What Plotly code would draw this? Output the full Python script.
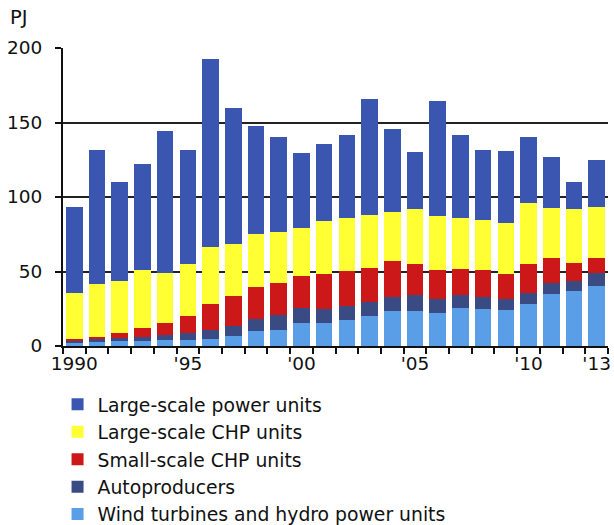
import plotly.graph_objects as go

years = [str(y) for y in range(1990, 2014)]
tick_labels = ["1990", "", "", "", "", "'95", "", "", "", "", "'00", "", "", "", "", "'05",
               "", "", "", "", "'10", "", "", "'13"]

wind_hydro = [2.4, 2.8, 3.3, 3.5, 4.0, 4.2, 4.6, 6.9, 9.8, 10.7, 15.2, 15.4, 17.4, 20.1,
              23.5, 23.7, 21.9, 25.7, 24.8, 24.1, 28.2, 34.9, 36.7, 40.0]
autoproducers = [1.1, 1.6, 2.2, 2.7, 3.1, 4.3, 5.9, 6.7, 8.1, 9.9, 10.1, 9.4, 9.6, 9.6,
                 9.6, 10.3, 9.4, 8.3, 8.1, 7.2, 7.6, 7.6, 7.1, 8.8]
small_chp = [1.1, 1.8, 3.4, 5.8, 8.5, 11.6, 17.5, 20.1, 21.7, 21.7, 21.5, 23.3, 23.3, 22.9,
             23.8, 21.0, 19.7, 17.7, 18.1, 16.8, 19.4, 16.4, 12.1, 10.1]
large_chp = [30.7, 35.4, 34.9, 39.0, 33.2, 34.9, 38.3, 35.0, 35.6, 34.4, 32.2, 35.8, 35.4,
             35.6, 33.3, 36.8, 36.5, 34.0, 33.4, 34.3, 40.8, 34.0, 35.9, 34.6]
large_power = [57.8, 89.8, 66.6, 71.2, 95.6, 76.7, 126.3, 90.7, 72.6, 63.5, 50.4, 51.8,
               55.6, 77.9, 55.4, 38.5, 76.6, 55.8, 47.3, 48.6, 44.2, 33.8, 18.6, 31.4]

series = [
    ("Wind turbines and hydro power units", wind_hydro, "#5b9ee8"),
    ("Autoproducers", autoproducers, "#3a4a82"),
    ("Small-scale CHP units", small_chp, "#cc1818"),
    ("Large-scale CHP units", large_chp, "#ffff33"),
    ("Large-scale power units", large_power, "#3a56b0"),
]

font = "DejaVu Sans, Verdana, sans-serif"

fig = go.Figure()
n = len(series)
for i, (name, vals, col) in enumerate(series):
    fig.add_trace(go.Bar(x=years, y=vals, name=name, marker_color=col,
                         marker_line_width=0, legendgroup=f"g{i}",
                         legendrank=n - i))

fig.update_layout(
    barmode="stack",
    bargap=0.27,
    width=614, height=525,
    margin=dict(l=63, r=6, t=48, b=179, autoexpand=False),
    paper_bgcolor="white", plot_bgcolor="white",
    font=dict(family=font, size=18.5, color="#111111"),
    legend=dict(
        orientation="v", traceorder="grouped", tracegroupgap=0,
        x=-0.010, xanchor="left", y=-0.133, yanchor="top",
        font=dict(family=font, size=18.8, color="#111111"),
        bgcolor="rgba(0,0,0,0)",
    ),
    xaxis=dict(
        type="category", tickmode="array", tickvals=years, ticktext=tick_labels,
        tickson="boundaries", ticks="outside", ticklen=6, tickwidth=2, tickcolor="#111111",
        showline=True, linecolor="#111111", linewidth=2, showgrid=False,
        tickangle=0, tickfont=dict(size=18.5), automargin=False,
    ),
    yaxis=dict(
        range=[0, 200], tickvals=[0, 50, 100, 150, 200], ticks="outside", ticklen=6,
        tickwidth=2, tickcolor="#111111", showline=True, linecolor="#111111", linewidth=2,
        showgrid=True, gridcolor="#222222", gridwidth=2, zeroline=False,
        tickfont=dict(size=18.5), automargin=False, ticklabelstandoff=9,
    ),
    annotations=[dict(text="PJ", xref="paper", yref="paper", x=-0.101, y=1.104,
                      xanchor="left", yanchor="middle", showarrow=False,
                      font=dict(family=font, size=19.5, color="#111111"))],
)

fig.write_html("out.html", config={"displayModeBar": False},
               post_script="document.body.style.margin='0';")
